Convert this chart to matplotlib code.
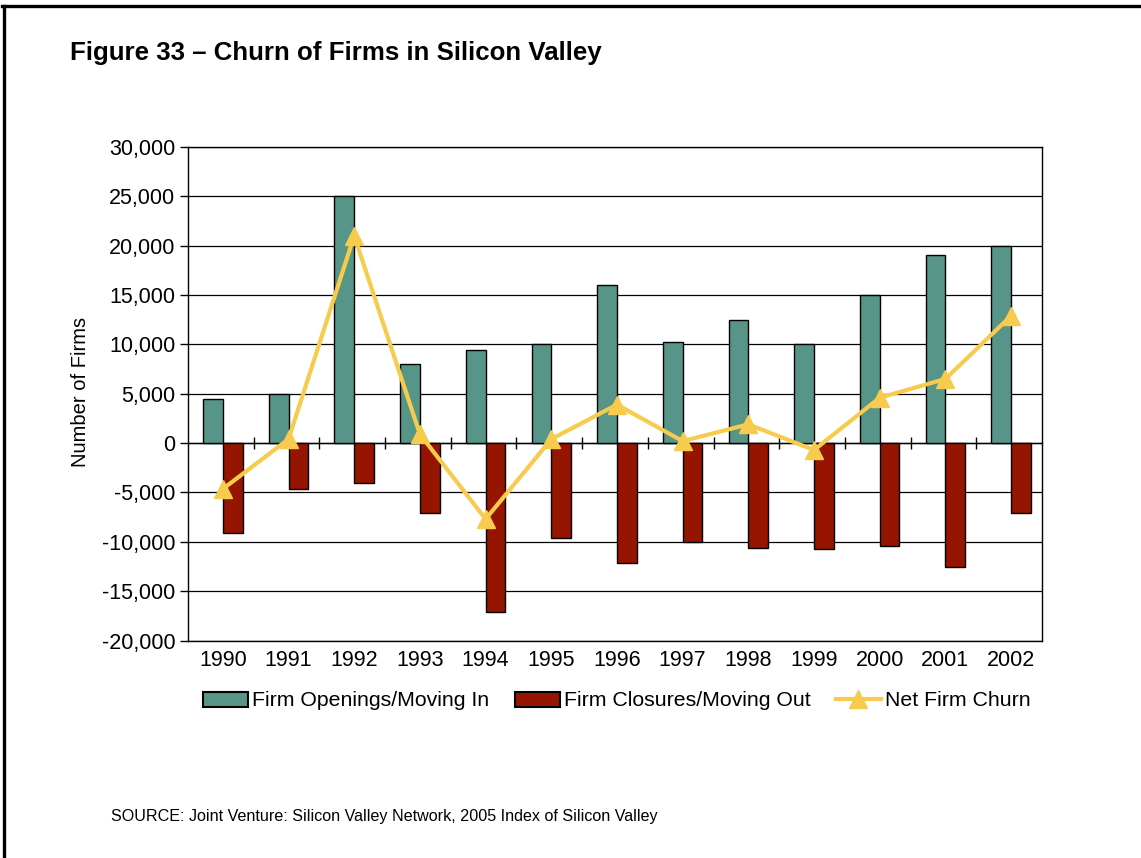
import matplotlib
matplotlib.use("Agg")
import matplotlib.pyplot as plt
from matplotlib.lines import Line2D
from matplotlib.patches import Patch
import numpy as np

plt.rcParams['font.family'] = ['Liberation Sans', 'DejaVu Sans']

years = ['1990', '1991', '1992', '1993', '1994', '1995', '1996',
         '1997', '1998', '1999', '2000', '2001', '2002']
openings = [4500, 5000, 25000, 8000, 9400, 10000, 16000,
            10200, 12500, 10000, 15000, 19100, 20000]
closures = [-9150, -4600, -4000, -7100, -17100, -9600, -12100,
            -10000, -10600, -10700, -10400, -12600, -7100]
net_churn = [-4650, 400, 21000, 900, -7700, 400, 3900,
             200, 1900, -700, 4600, 6500, 12900]
y_ticks = [-20000, -15000, -10000, -5000, 0, 5000, 10000, 15000, 20000, 25000, 30000]

teal = '#579589'
dark_red = '#951500'
gold = '#F7CB4D'

W, H = 1141, 858
fig = plt.figure(figsize=(W / 100, H / 100), dpi=100)

# page frame (top and left edges)
fig.add_artist(Line2D([3.5 / W, 3.5 / W], [0, 1 - 5.5 / H], color='black', lw=2.4,
                      transform=fig.transFigure))
fig.add_artist(Line2D([2 / W, 1], [1 - 5.5 / H, 1 - 5.5 / H], color='black', lw=2.4,
                      transform=fig.transFigure))

ax = fig.add_axes([188 / W, 1 - 640.5 / H, (1042 - 188) / W, (640.5 - 147) / H])

x = np.arange(len(years))
bw = 0.3
shift = 0.03
ax.bar(x - bw / 2 + shift, openings, bw, color=teal, edgecolor='black', linewidth=1.0, zorder=3)
ax.bar(x + bw / 2 + shift, closures, bw, color=dark_red, edgecolor='black', linewidth=1.0, zorder=3)
ax.plot(x + shift, net_churn, color=gold, lw=3, marker='^', markersize=13,
        markeredgecolor=gold, zorder=5)

ax.set_xlim(-0.5, len(years) - 0.5)
ax.set_ylim(-20000, 30000)
ax.set_yticks(y_ticks)
ax.set_yticklabels([f'{v:,}' for v in y_ticks])
ax.yaxis.grid(True, color='black', lw=0.9, zorder=0)
ax.set_axisbelow(True)
ax.tick_params(axis='y', direction='out', length=6, width=1, labelsize=15.5, pad=3)
ax.set_xticks(x + shift)
ax.set_xticklabels(years)
ax.tick_params(axis='x', length=0, labelsize=15.5, pad=7)
for s in ax.spines.values():
    s.set_color('black')
    s.set_linewidth(1.0)

# category axis line at zero with boundary tick marks
zero_frac = (0 - (-20000)) / (30000 - (-20000))
sec = ax.secondary_xaxis(zero_frac)
sec.set_xticks(np.arange(0.5, len(years) - 1, 1.0))
sec.tick_params(axis='x', direction='inout', length=9, width=1, labelbottom=False,
                labeltop=False, color='black')
sec.spines['bottom'].set_linewidth(1.0)
sec.spines['bottom'].set_color('black')

fig.text(70 / W, 1 - 60 / H, 'Figure 33 \u2013 Churn of Firms in Silicon Valley',
         fontsize=18.6, fontweight='bold', ha='left', va='baseline')
fig.text(81 / W, 1 - 392 / H, 'Number of Firms', rotation=90, fontsize=14.5,
         ha='center', va='center')
fig.text(111 / W, 1 - 816 / H,
         'SOURCE: Joint Venture: Silicon Valley Network, 2005 Index of Silicon Valley',
         fontsize=11.6, ha='left', va='center')

handles = [
    Patch(facecolor=teal, edgecolor='black', linewidth=1.5),
    Patch(facecolor=dark_red, edgecolor='black', linewidth=1.5),
    Line2D([], [], color=gold, lw=3, marker='^', markersize=13, markeredgecolor=gold),
]
labels = ['Firm Openings/Moving In', 'Firm Closures/Moving Out', 'Net Firm Churn']
fig.legend(handles, labels, loc='center', bbox_to_anchor=(617 / W, 1 - 701 / H),
           ncol=3, frameon=False, fontsize=15.3, handlelength=2.1, handleheight=0.7,
           handletextpad=0.2, columnspacing=1.2)

fig.savefig('out.png', dpi=100)
